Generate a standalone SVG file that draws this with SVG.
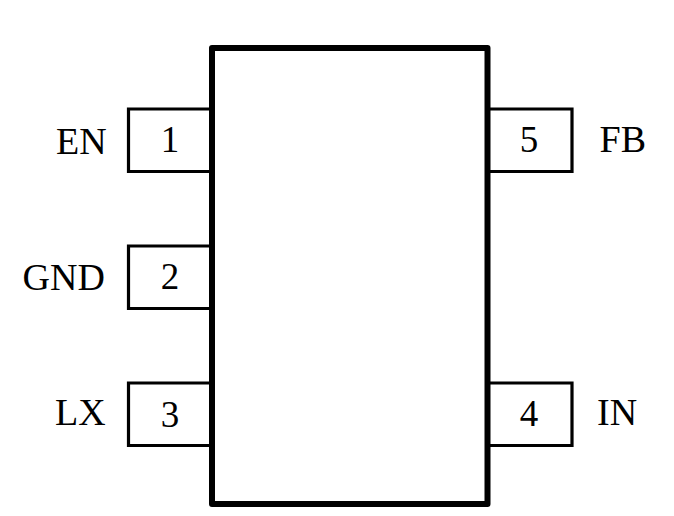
<svg xmlns="http://www.w3.org/2000/svg" width="674" height="516" viewBox="0 0 674 516">
<style>
text{font-family:"Liberation Serif","Times New Roman",serif;font-size:37px;fill:#000}
.l{font-size:38px}
.n{text-anchor:middle}
.pin{fill:none;stroke:#000;stroke-width:3.2}
.body{fill:#fff;stroke:#000;stroke-width:6;stroke-linejoin:round}
</style>
<rect width="674" height="516" fill="#fff"/>
<g id="connectors"></g>
<g id="pin1"><path class="pin" d="M212 109H128.500V171.500H212"/><text class="n" x="170" y="152">1</text><text class="l" x="56" y="154">EN</text></g>
<g id="pin2"><path class="pin" d="M212 246H128.500V308.500H212"/><text class="n" x="170" y="289">2</text><text class="l" x="22.500" y="290">GND</text></g>
<g id="pin3"><path class="pin" d="M212 383H128.500V445.500H212"/><text class="n" x="170" y="427">3</text><text class="l" x="55" y="425">LX</text></g>
<g id="pin4"><path class="pin" d="M488 383H572V445.500H488"/><text class="n" x="529" y="426">4</text><text class="l" x="597" y="425">IN</text></g>
<g id="pin5"><path class="pin" d="M488 109H572V171.500H488"/><text class="n" x="529" y="152">5</text><text class="l" x="599.500" y="152">FB</text></g>
<g id="body"><rect class="body" x="212" y="48" width="275.500" height="456"/></g>
</svg>
